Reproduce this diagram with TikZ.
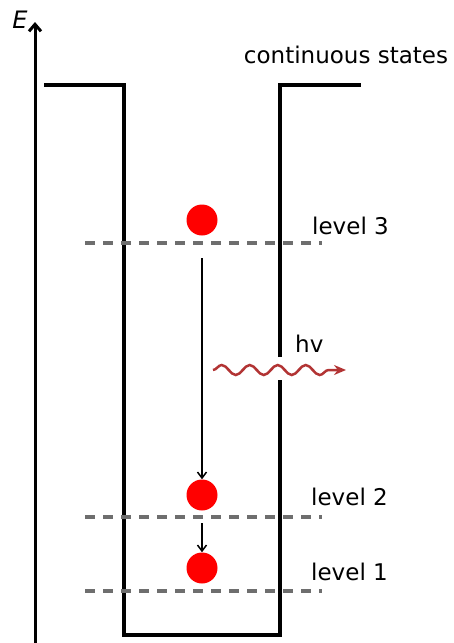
\documentclass[tikz,border=0pt]{standalone}
\usepackage{fontspec}
\setmainfont{DejaVu Sans}
\usetikzlibrary{arrows.meta,decorations.pathmorphing}
\definecolor{levelgray}{RGB}{110,110,110}
\definecolor{wavered}{RGB}{178,52,52}
\begin{document}
\begin{tikzpicture}[x=1pt,y=-1pt,
  wall/.style={line width=4pt,line join=miter},
  levelline/.style={levelgray,line width=4pt,dash pattern=on 10pt off 8pt},
  electron/.style={circle,fill=red,minimum size=31pt,inner sep=0pt},
  lbl/.style={font=\fontsize{23}{27}\selectfont,inner sep=0pt,anchor=west},
  trans/.style={line width=1.5pt,-{Straight Barb[length=6pt,width=9pt]}}]
\useasboundingbox (0,0) rectangle (453,643);
% energy axis
\coordinate (axb) at (35,643);
\coordinate (axt) at (35,22);
\draw[line width=3pt,-{Straight Barb[length=7pt,width=12pt]}] (axb) -- (axt);
\node[font=\fontsize{24}{28}\selectfont\itshape,inner sep=0pt] (E) at (20,20) {E};
% well
\draw[wall] (44,85) -- (124,85) -- (124,635) -- (280,635) -- (280,380);
\draw[wall] (280,357) -- (280,85) -- (361,85);
% levels
\draw[levelline] (85,243) -- (322,243);
\draw[levelline] (85,517) -- (322,517);
\draw[levelline] (85,591) -- (322,591);
% electrons
\node[electron] (e3) at (202,220) {};
\node[electron] (e2) at (202,495) {};
\node[electron] (e1) at (202,568) {};
% transitions
\coordinate (t1s) at (202,258);
\draw[trans] (t1s) -- (e2.north);
\coordinate (t2s) at (202,523);
\draw[trans] (t2s) -- (e1.north);
% photon
\coordinate (ws) at (213,370);
\coordinate (we) at (346,370);
\draw[wavered,line width=2.5pt,decorate,decoration={snake,segment length=28pt,amplitude=5pt,post length=14pt},-{Stealth[length=12pt,width=10pt]}] (ws) -- (we);
\node[lbl] (hv) at (295,344) {hv};
% labels
\node[lbl] (l3) at (312,226) {level 3};
\node[lbl] (l2) at (311,497) {level 2};
\node[lbl] (l1) at (311,572) {level 1};
\node[lbl,anchor=center] (cs) at (346,55) {continuous states};
\end{tikzpicture}
\end{document}
